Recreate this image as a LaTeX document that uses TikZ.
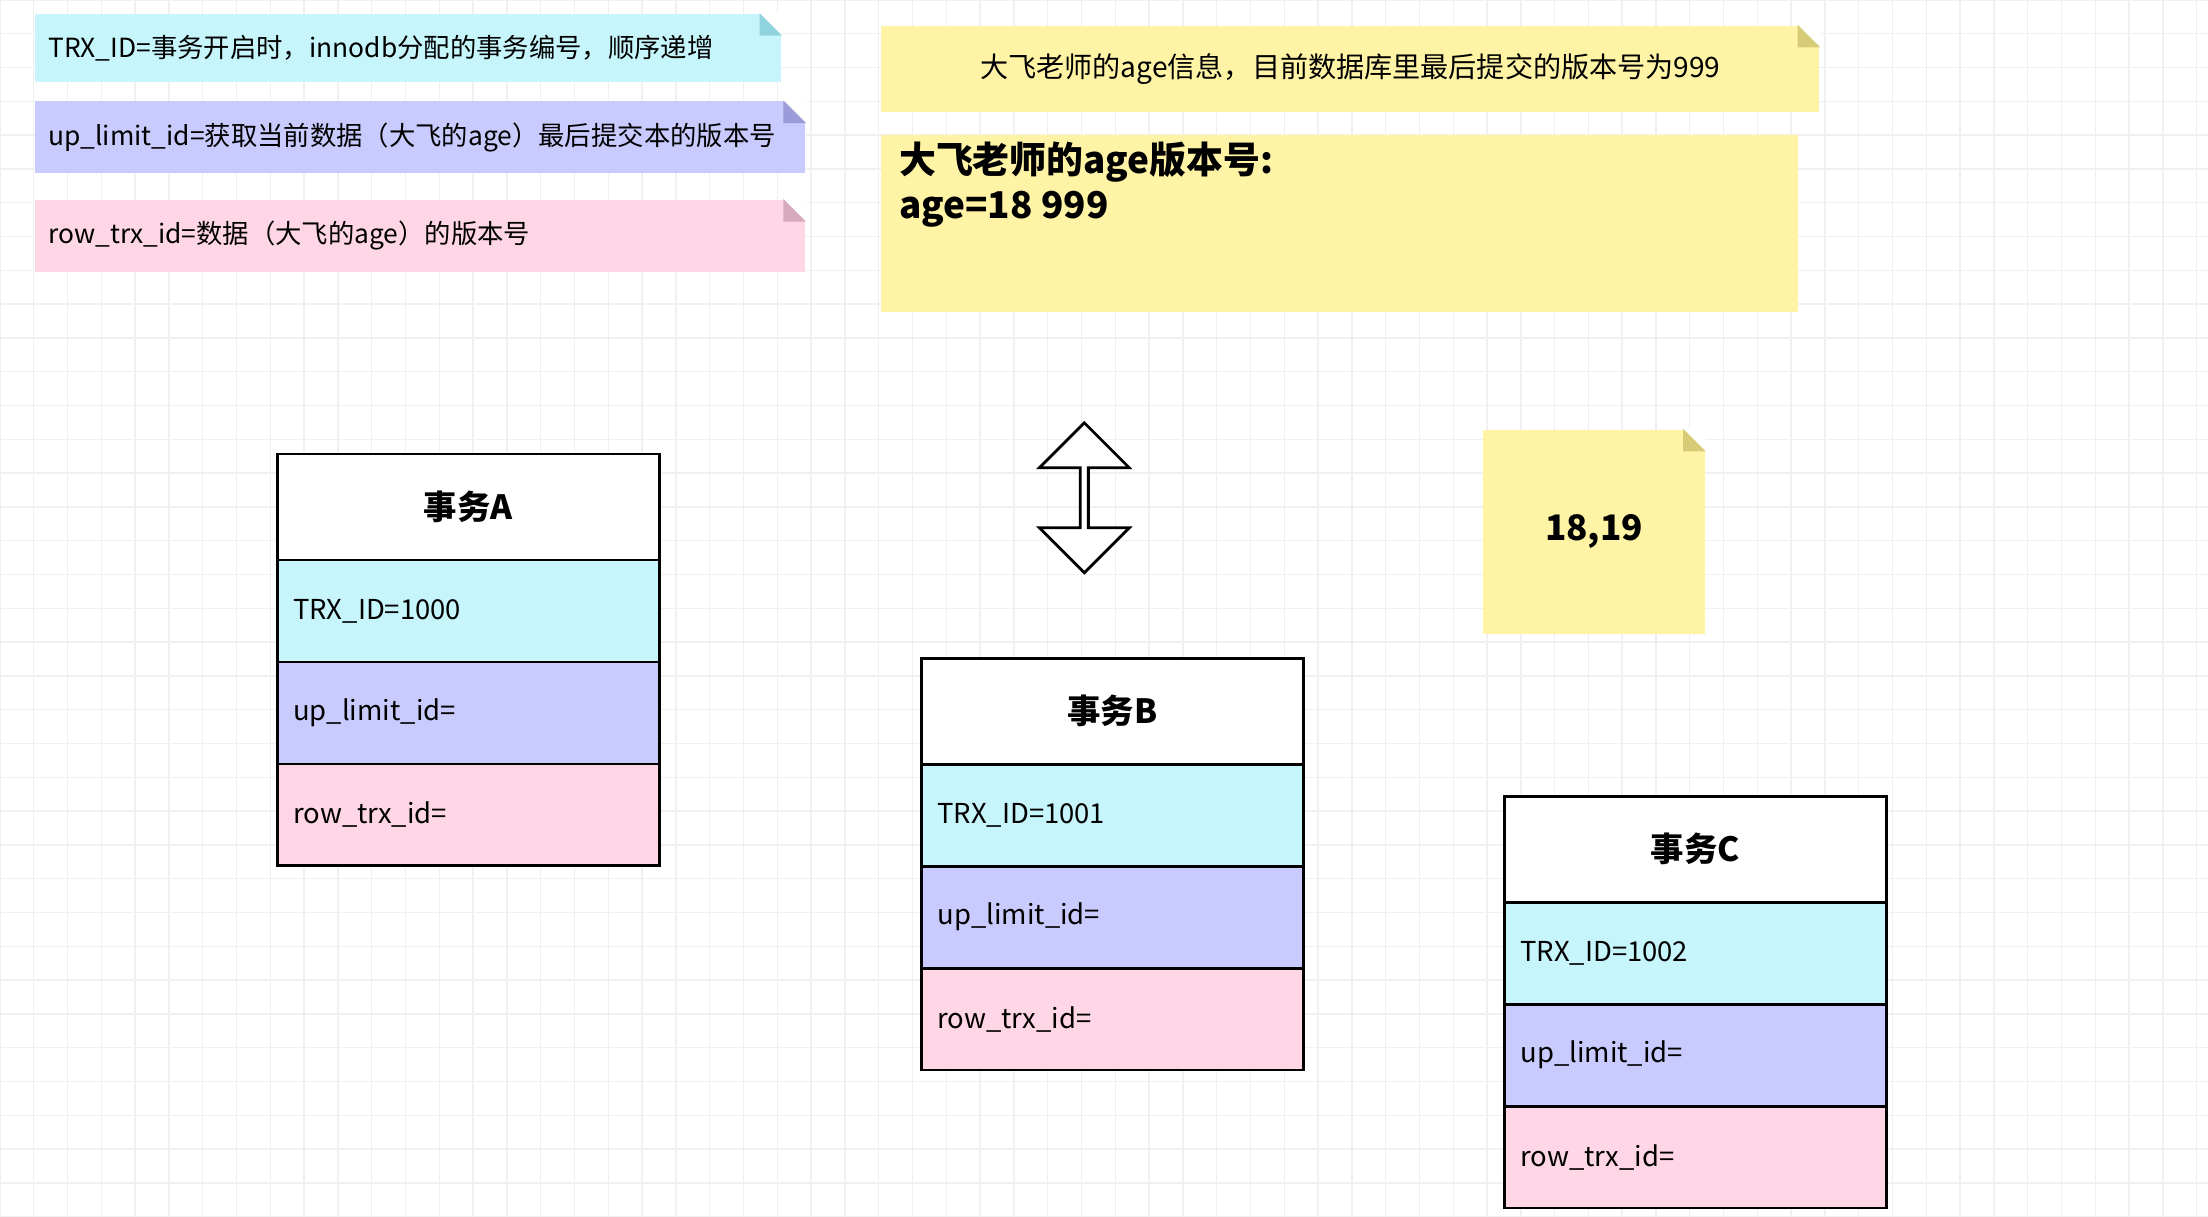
\documentclass[tikz,border=0pt]{standalone}
\usepackage{fontspec}
\setmainfont{Noto Sans CJK SC}
\usetikzlibrary{positioning, shapes.arrows}
\definecolor{notecyan}{HTML}{C6F6FB}
\definecolor{notepurple}{HTML}{C9CAFD}
\definecolor{notepink}{HTML}{FFD6E6}
\definecolor{noteyellow}{HTML}{FFF4A6}
\definecolor{foldcyan}{HTML}{8FD3DC}
\definecolor{foldpurple}{HTML}{9A9BD8}
\definecolor{foldpink}{HTML}{D7A9BC}
\definecolor{foldyellow}{HTML}{D8CB78}
\newcommand{\fold}[2]{%
  \fill[white] (#1.north east) -- ++(-16,0) -- ++(16,16) -- cycle;
  \fill[#2] (#1.north east) ++(-16,0) -- ++(16,16) -- ++(-16,0) -- cycle;}
\begin{document}
\begin{tikzpicture}[x=0.01408cm, y=-0.01408cm,
  note/.style={draw=none, minimum height=0.7cm, inner sep=0pt, font=\fontsize{7.5}{10}\selectfont},
  header/.style={draw=black, thick, fill=white, minimum width=3.82cm, minimum height=1.06cm, outer sep=0pt, font=\fontsize{9.5}{11}\selectfont\bfseries},
  row/.style={draw=black, thick, minimum width=3.82cm, minimum height=1.02cm, outer sep=0pt, text width=3.5cm, align=left, font=\fontsize{7.8}{10}\selectfont},
  gridline/.style={gray!12, line width=0.4pt}]
  \useasboundingbox (0,0) rectangle (1568,864);
  \fill[white] (0,0) rectangle (1568,864);
  \draw[gridline, step=0.338cm] (0,0) grid (1568,864);

  %Notes
  \node[note, fill=notecyan, minimum width=7.46cm, minimum height=0.68cm, text width=7.2cm, align=left](trxnote) at (290,34){TRX\_ID=事务开启时，innodb分配的事务编号，顺序递增};
  \node[note, fill=notepurple, minimum width=7.70cm, minimum height=0.72cm, text width=7.44cm, align=left](upnote) at (298.5,97.5){up\_limit\_id=获取当前数据（大飞的age）最后提交本的版本号};
  \node[note, fill=notepink, minimum width=7.70cm, minimum height=0.72cm, text width=7.44cm, align=left](rownote) at (298.5,167.5){row\_trx\_id=数据（大飞的age）的版本号};
  \node[note, fill=noteyellow, minimum width=9.38cm, minimum height=0.87cm, font=\fontsize{8}{10}\selectfont](infonote) at (959,49){大飞老师的age信息，目前数据库里最后提交的版本号为999};
  \node[note, fill=noteyellow, minimum width=9.17cm, minimum height=1.77cm](agenote) at (951.5,159){};
  \node[anchor=north west, inner sep=0pt, align=left, font=\fontsize{10.5}{13}\selectfont\bfseries](agetext) at (638,100){大飞老师的age版本号:\\age=18 999};
  \node[note, fill=noteyellow, minimum width=2.22cm, minimum height=2.04cm, font=\fontsize{10}{12}\selectfont\bfseries](valnote) at (1132,377.5){18,19};
  \fold{trxnote}{foldcyan}
  \fold{upnote}{foldpurple}
  \fold{rownote}{foldpink}
  \fold{infonote}{foldyellow}
  \fold{valnote}{foldyellow}

  %Arrow
  \node[double arrow, draw=black, thick, fill=white, rotate=90, minimum width=0.9cm, minimum height=1.5cm, double arrow head extend=0.14cm, inner sep=0pt](swap) at (770,353.5){};

  %Transaction A
  \node[header](ahead) at (332.5,360){事务A};
  \node[row, fill=notecyan, below=0pt of ahead](atrx){TRX\_ID=1000};
  \node[row, fill=notepurple, below=0pt of atrx](aup){up\_limit\_id=};
  \node[row, fill=notepink, below=0pt of aup](arow){row\_trx\_id=};

  %Transaction B
  \node[header](bhead) at (790,505){事务B};
  \node[row, fill=notecyan, below=0pt of bhead](btrx){TRX\_ID=1001};
  \node[row, fill=notepurple, below=0pt of btrx](bup){up\_limit\_id=};
  \node[row, fill=notepink, below=0pt of bup](brow){row\_trx\_id=};

  %Transaction C
  \node[header](chead) at (1204,603){事务C};
  \node[row, fill=notecyan, below=0pt of chead](ctrx){TRX\_ID=1002};
  \node[row, fill=notepurple, below=0pt of ctrx](cup){up\_limit\_id=};
  \node[row, fill=notepink, below=0pt of cup](crow){row\_trx\_id=};
\end{tikzpicture}
\end{document}
